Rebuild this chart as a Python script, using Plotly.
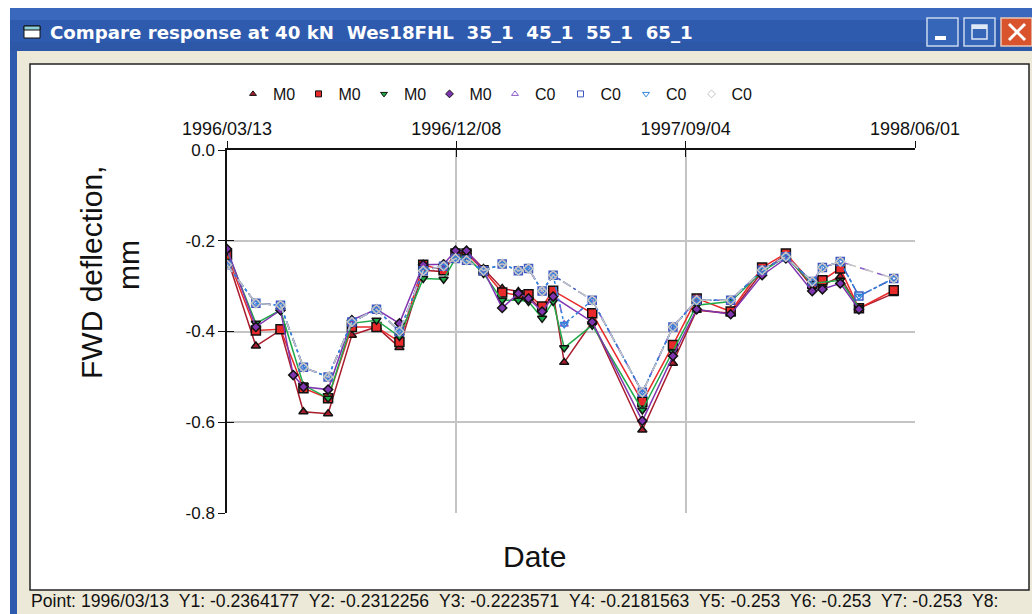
import plotly.graph_objects as go

W, H = 1032, 614
dates = ["1996-03-13","1996-04-16","1996-05-15","1996-05-30","1996-06-11","1996-07-10","1996-08-07","1996-09-05",
         "1996-10-02","1996-10-30","1996-11-23","1996-12-07","1996-12-20","1997-01-09","1997-01-31","1997-02-19",
         "1997-03-03","1997-03-19","1997-04-01","1997-04-14","1997-05-17","1997-07-15","1997-08-20","1997-09-17",
         "1997-10-27","1997-12-03","1997-12-31","1998-01-31","1998-02-12","1998-03-05","1998-03-27","1998-05-07"]
M1 = [-.2364,-.432,-.397,None,-.577,-.581,-.408,-.390,-.435,-.265,-.268,-.228,-.224,-.261,-.305,-.312,
      -.323,-.353,-.316,-.468,-.379,-.617,-.470,-.353,-.360,-.268,-.231,-.301,-.298,-.279,-.349,-.316]
M2 = [-.2312,-.398,-.395,None,-.525,-.547,-.390,-.390,-.423,-.253,-.265,-.228,-.228,-.265,-.314,-.320,
      -.318,-.345,-.310,None,-.360,-.555,-.430,-.327,-.356,-.259,-.228,-.294,-.287,-.261,-.349,-.309]
M3 = [-.2224,-.382,-.353,None,-.518,-.547,-.382,-.375,-.411,-.283,-.285,-.239,-.235,-.272,-.331,-.331,
      -.334,-.371,-.334,-.436,-.386,-.573,-.445,-.342,-.334,-.268,-.235,-.294,None,-.287,-.347,None]
M4 = [-.2182,-.390,-.353,-.496,-.522,-.528,-.375,-.351,-.382,-.253,-.252,-.222,-.222,-.265,-.348,-.316,
      -.327,-.356,-.323,None,-.379,-.597,-.454,-.351,-.362,-.276,-.239,-.311,-.307,-.294,-.351,None]
C5 = [-.253,-.338,-.342,None,-.479,-.500,-.379,-.351,-.400,-.266,-.256,-.239,-.243,-.266,-.251,-.266,
      -.261,-.311,-.276,-.384,-.331,-.534,-.390,-.331,-.331,-.265,-.235,-.290,-.259,-.246,None,-.283]
C6 = [-.253,-.338,-.342,None,-.479,-.500,-.379,-.351,-.400,-.266,-.256,-.239,-.243,-.266,-.251,-.266,
      -.261,-.311,-.276,None,-.331,-.534,-.390,-.331,-.331,-.265,-.235,-.290,-.259,-.246,-.322,-.283]
C7 = [-.253,-.338,-.342,None,-.479,-.500,-.379,-.351,-.400,-.266,-.256,-.239,-.243,-.266,-.251,-.266,
      -.261,-.311,-.276,-.384,-.331,-.534,-.390,-.331,-.331,-.265,-.235,-.290,-.259,-.246,-.322,-.283]
C8 = [-.253,-.338,-.342,None,-.479,-.500,-.379,-.351,-.400,-.266,-.256,-.239,-.243,-.266,-.251,-.266,
      -.261,-.311,-.276,None,-.331,-.534,-.390,-.331,-.331,-.265,-.235,-.290,-.259,-.246,None,-.283]
x_ticks = ["1996-03-13","1996-12-08","1997-09-04","1998-06-01"]
x_labels = ["1996/03/13","1996/12/08","1997/09/04","1998/06/01"]
y_ticks = [0,-.2,-.4,-.6,-.8]
y_labels = ["0.0","-0.2","-0.4","-0.6","-0.8"]
names = ["M0","M0","M0","M0","C0","C0","C0","C0"]
G = "\u00a0\u00a0"
status = f"Point: 1996/03/13{G}Y1: -0.2364177{G}Y2: -0.2312256{G}Y3: -0.2223571{G}Y4: -0.2181563{G}Y5: -0.253{G}Y6: -0.253{G}Y7: -0.253{G}Y8:"
title = f"Compare response at 40 kN{G}Wes18FHL{G}35_1{G}45_1{G}55_1{G}65_1"

FONT = "Liberation Sans"
px = lambda v: v / W
py = lambda v: 1 - v / H
series = [
    (M1, "#a81c2c", "triangle-up", "solid", 8), (M2, "#e82a2a", "square", "solid", 9),
    (M3, "#1faa4a", "triangle-down", "solid", 8), (M4, "#8035b0", "diamond", "solid", 7),
    (C5, "#8a5cc8", "triangle-up-open", "dash", 7), (C6, "#3f58c0", "square-open", "dashdot", 8),
    (C7, "#2f86dc", "triangle-down-open", "dot", 7), (C8, "#c4c4c4", "diamond-open", "dash", 7),
]
fig = go.Figure()
for vals, col, sym, dash, size in series:
    solid = dash == "solid"
    fig.add_trace(go.Scatter(
        x=dates, y=vals, mode="lines+markers", connectgaps=True, showlegend=False, hoverinfo="skip",
        line=dict(color=col, width=1.5, dash=dash),
        marker=dict(symbol=sym, size=size, color=col,
                    line=dict(color="#111111" if solid else col, width=1.5))))
for (vals, col, sym, dash, size), n in zip(series, names):
    fig.add_trace(go.Scatter(x=[None], y=[None], mode="markers", name=n, showlegend=True,
                             marker=dict(symbol=sym, size=6, color=col,
                                         line=dict(color="#111111" if dash == "solid" else col, width=1))))
fig.add_trace(go.Scatter(x=[None], y=[None], xaxis="x2", yaxis="y2", showlegend=False, hoverinfo="skip"))


def rect(x0, y0, x1, y1, fill, line=None, lw=1):
    return dict(type="rect", xref="paper", yref="paper", x0=px(x0), x1=px(x1), y0=py(y1), y1=py(y0),
                fillcolor=fill, line=dict(color=line or fill, width=lw if line else 0), layer="below")


shapes = [
    rect(10, 8, 1032, 20, "#3a68bc"), rect(10, 20, 1032, 42, "#2f5bae"), rect(10, 42, 1032, 51, "#2d58a8"),
    rect(10, 51, 17, 614, "#2f5bae"), rect(17, 51, 1032, 614, "#ece9d8"),
    rect(30, 64, 1029, 590, "#ffffff", "#222222", 1.5),
    rect(927, 18, 958, 46, "#3566b8", "#c8d6ee", 1.5), rect(964, 18, 995, 46, "#3566b8", "#c8d6ee", 1.5),
    rect(1001, 18, 1032, 46, "#d9532c", "#e8c8b8", 1.5),
    rect(935, 36, 946, 40, "#ffffff"), rect(972, 25, 987, 39, "#3566b8", "#dfe8f6", 1.5),
    rect(972, 25, 987, 29, "#dfe8f6"),
    rect(24, 26, 40, 38, "#ffffff", "#111111", 1), rect(24, 26, 40, 30, "#8fd0d8", "#111111", 1),
]
for a, b, c, d in [(1009, 24, 1025, 40), (1009, 40, 1025, 24)]:
    shapes.append(dict(type="line", xref="paper", yref="paper", x0=px(a), x1=px(c), y0=py(b), y1=py(d),
                       line=dict(color="#ffffff", width=3), layer="below"))


def note(text, x, y, size, color="#111111", anchor="left", angle=0, family=FONT, bold=False):
    t = f"<b>{text}</b>" if bold else text
    return dict(text=t, xref="paper", yref="paper", x=px(x), y=py(y), xanchor=anchor, yanchor="middle",
                showarrow=False, textangle=angle, font=dict(family=family, size=size, color=color))


annotations = [
    note(title, 48, 32, 18.2, "#ffffff", family="DejaVu Sans", bold=True),
    note("FWD deflection,", 91, 273, 30, anchor="center", angle=-90),
    note("mm", 128, 265, 30, anchor="center", angle=-90),
    note("Date", 534, 556, 30, anchor="center"),
    note(status, 29, 601, 17.6),
]
xr = ["1996-03-13", "1998-06-01"]
yr = [-.8, 0]
dom_x = [px(227), px(915)]
dom_y = [py(513), py(150)]
fig.update_layout(
    width=W, height=H, margin=dict(l=0, r=0, t=0, b=0, autoexpand=False), paper_bgcolor="#ffffff",
    plot_bgcolor="rgba(0,0,0,0)",
    shapes=shapes, annotations=annotations, font=dict(family=FONT, color="#111111"),
    legend=dict(orientation="h", x=px(233), y=py(77), xanchor="left", yanchor="top", bgcolor="rgba(0,0,0,0)",
                font=dict(size=16, family=FONT), entrywidth=20.5, entrywidthmode="pixels", traceorder="normal"),
    xaxis=dict(type="date", side="top", domain=dom_x, range=xr, tickmode="array", tickvals=x_ticks, ticktext=x_labels,
               ticks="outside", ticklen=7, tickcolor="#111111", showline=True, linecolor="#111111", linewidth=1.5,
               showgrid=True, gridcolor="#c4c4c4", gridwidth=2, zeroline=False, tickfont=dict(size=18), anchor="y",
               ticklabelstandoff=-1),
    yaxis=dict(domain=dom_y, range=yr, tickmode="array", tickvals=y_ticks, ticktext=y_labels,
               ticks="outside", ticklen=7, tickcolor="#111111", showline=True, linecolor="#111111", linewidth=1.5,
               showgrid=True, gridcolor="#c4c4c4", gridwidth=2, zeroline=False, tickfont=dict(size=17), anchor="x"),
    xaxis2=dict(type="date", overlaying="x", side="top", domain=dom_x, range=xr, tickmode="array", tickvals=x_ticks,
                ticks="inside", ticklen=7, tickcolor="#111111", showticklabels=False, showgrid=False, zeroline=False,
                anchor="y2"),
    yaxis2=dict(overlaying="y", side="left", domain=dom_y, range=yr, tickmode="array", tickvals=y_ticks, ticks="inside",
                ticklen=7, tickcolor="#111111", showticklabels=False, showgrid=False, zeroline=False, anchor="x2"),
)
fig.write_html("out.html", config={"displayModeBar": False},
               post_script="document.body.style.margin='0';document.body.style.overflow='hidden';")
